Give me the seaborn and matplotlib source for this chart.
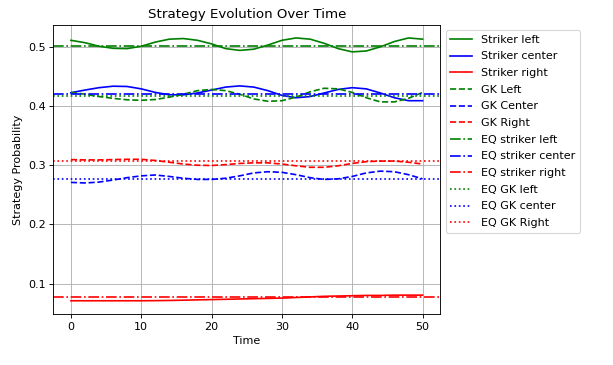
import matplotlib
matplotlib.use("Agg")
import matplotlib.pyplot as plt
import seaborn as sns

# time samples
time = [0, 2, 4, 6, 8, 10, 12, 14, 16, 18, 20, 22, 24, 26, 28, 30, 32, 34, 36, 38, 40, 42, 44, 46, 48, 50]

striker_left = [0.511, 0.507, 0.501, 0.4975, 0.497, 0.501, 0.508, 0.513, 0.514, 0.511, 0.505, 0.497, 0.494,
                0.496, 0.503, 0.511, 0.515, 0.513, 0.506, 0.497, 0.4915, 0.493, 0.500, 0.509, 0.515, 0.513]
striker_center = [0.4225, 0.427, 0.431, 0.4335, 0.433, 0.429, 0.423, 0.419, 0.419, 0.422, 0.427, 0.432, 0.434,
                  0.432, 0.426, 0.418, 0.414, 0.416, 0.422, 0.428, 0.431, 0.429, 0.422, 0.414, 0.409, 0.409]
striker_right = [0.071, 0.071, 0.071, 0.071, 0.071, 0.071, 0.0712, 0.0715, 0.072, 0.0725, 0.073, 0.0735, 0.074,
                 0.0745, 0.075, 0.0755, 0.0765, 0.0775, 0.0785, 0.079, 0.0795, 0.080, 0.080, 0.0805, 0.0805, 0.0805]
gk_left = [0.423, 0.420, 0.416, 0.413, 0.4105, 0.4097, 0.411, 0.415, 0.420, 0.426, 0.428, 0.426, 0.420,
           0.412, 0.408, 0.409, 0.415, 0.424, 0.430, 0.429, 0.423, 0.414, 0.407, 0.407, 0.413, 0.423]
gk_center = [0.271, 0.270, 0.2715, 0.275, 0.279, 0.282, 0.2835, 0.281, 0.278, 0.276, 0.276, 0.278, 0.282,
             0.287, 0.289, 0.288, 0.284, 0.279, 0.276, 0.277, 0.281, 0.287, 0.290, 0.289, 0.284, 0.277]
gk_right = [0.3095, 0.309, 0.309, 0.3095, 0.310, 0.310, 0.308, 0.305, 0.302, 0.300, 0.2995, 0.301, 0.303,
            0.304, 0.304, 0.302, 0.299, 0.2965, 0.2965, 0.299, 0.303, 0.306, 0.307, 0.307, 0.305, 0.302]

# equilibrium values
eq_striker = [0.502, 0.421, 0.077]
eq_gk = [0.417, 0.276, 0.307]

colors = ["green", "blue", "red"]

# drawn at 80 dpi so text and lines come out at the reference's scale
fig, ax = plt.subplots(figsize=(613 / 80, 365 / 80), dpi=80)
fig.subplots_adjust(left=0.087, right=0.718, top=0.932, bottom=0.14)

for y, c, lab in zip([striker_left, striker_center, striker_right], colors,
                     ["Striker left", "Striker center", "Striker right"]):
    sns.lineplot(x=time, y=y, color=c, label=lab, ax=ax)
for y, c, lab in zip([gk_left, gk_center, gk_right], colors,
                     ["GK Left", "GK Center", "GK Right"]):
    sns.lineplot(x=time, y=y, color=c, linestyle="--", label=lab, ax=ax)
for v, c, lab in zip(eq_striker, colors,
                     ["EQ striker left", "EQ striker center", "EQ striker right"]):
    ax.axhline(v, color=c, linestyle="-.", label=lab)
for v, c, lab in zip(eq_gk, colors,
                     ["EQ GK left", "EQ GK center", "EQ GK Right"]):
    ax.axhline(v, color=c, linestyle=":", label=lab)

ax.set_title("Strategy Evolution Over Time")
ax.set_xlabel("Time")
ax.set_ylabel("Strategy Probability")
ax.grid(True)
ax.legend(loc="upper left", bbox_to_anchor=(1, 1), labelspacing=0.6)

fig.savefig("out.png", dpi=80)
